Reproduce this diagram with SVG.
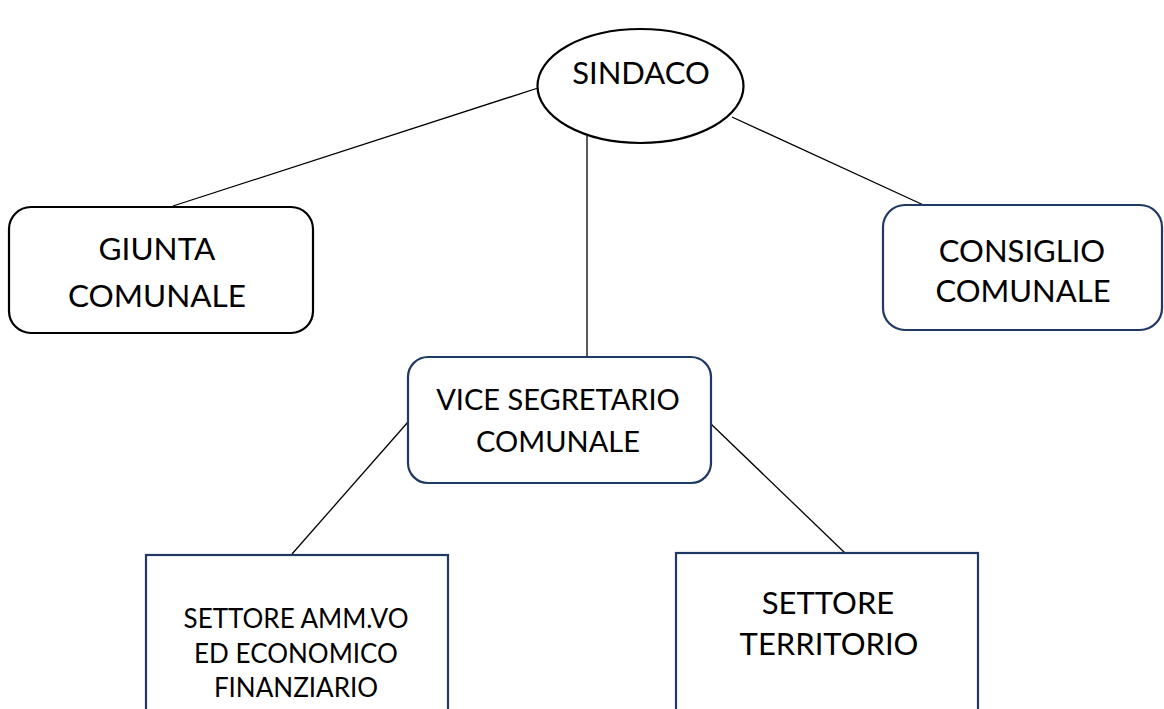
<svg xmlns="http://www.w3.org/2000/svg" width="1164" height="709" viewBox="0 0 1164 709">
<style>
.bg{fill:#ffffff}
.node{fill:#ffffff;stroke:#203864;stroke-width:2.2}
.nodek{fill:#ffffff;stroke:#000000;stroke-width:2.2}
.conn{stroke:#000000;stroke-width:1.3;fill:none}
text{font-family:Lato,"Open Sans","Liberation Sans",sans-serif;fill:#000000;text-anchor:middle}
</style>
<rect class="bg" x="0" y="0" width="1164" height="709"/>
<g id="connectors">
<line class="conn" x1="538" y1="88" x2="173" y2="206"/>
<line class="conn" x1="732" y1="117" x2="930" y2="208"/>
<line class="conn" x1="587" y1="136" x2="587" y2="357"/>
<line class="conn" x1="408" y1="422" x2="292" y2="554"/>
<line class="conn" x1="711" y1="424" x2="845" y2="553"/>
</g>
<g id="sindaco">
<ellipse class="nodek" cx="640.5" cy="86" rx="103" ry="57"/>
<text x="641" y="84" font-size="31">SINDACO</text>
</g>
<g id="giunta">
<rect class="nodek" x="9" y="207" width="304" height="126" rx="22"/>
<text x="157" y="260" font-size="31.5">GIUNTA</text>
<text x="157" y="307" font-size="31.5">COMUNALE</text>
</g>
<g id="consiglio">
<rect class="node" x="883" y="205" width="279" height="125" rx="22"/>
<text x="1022" y="262" font-size="31">CONSIGLIO</text>
<text x="1023" y="302" font-size="31">COMUNALE</text>
</g>
<g id="vice">
<rect class="node" x="408" y="357" width="303" height="126" rx="20"/>
<text x="558" y="410" font-size="29">VICE SEGRETARIO</text>
<text x="558" y="452" font-size="29">COMUNALE</text>
</g>
<g id="settore-amm">
<rect class="node" x="146" y="555" width="302" height="170"/>
<text x="296" y="628" font-size="26">SETTORE AMM.VO</text>
<text x="296" y="663" font-size="26">ED ECONOMICO</text>
<text x="296" y="697" font-size="26">FINANZIARIO</text>
</g>
<g id="settore-territorio">
<rect class="node" x="676" y="553" width="302" height="170"/>
<text x="828" y="614" font-size="31">SETTORE</text>
<text x="829" y="655" font-size="31">TERRITORIO</text>
</g>
</svg>
